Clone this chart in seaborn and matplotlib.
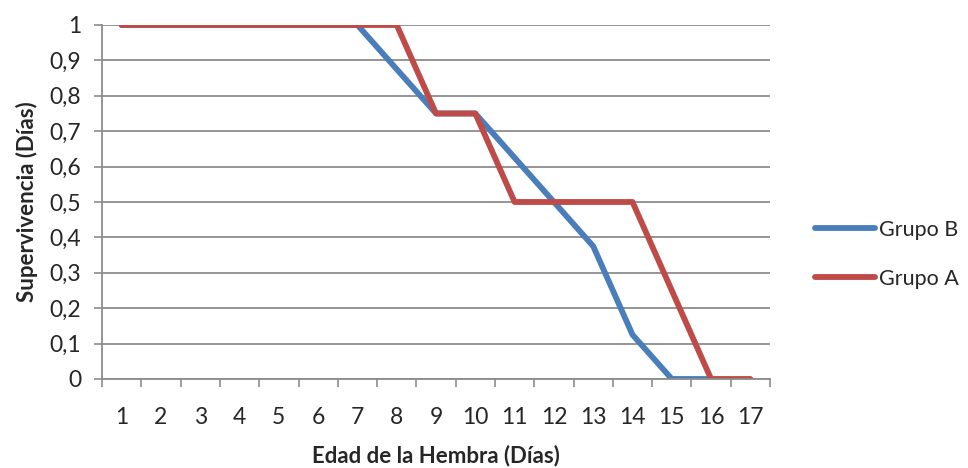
import pandas as pd
import numpy as np
import seaborn as sns
import matplotlib.pyplot as plt
from matplotlib.ticker import FixedLocator, FuncFormatter

dias = list(range(1, 18))
grupo_b = [1, 1, 1, 1, 1, 1, 1, 0.875, 0.75, 0.75, 0.625, 0.5, 0.375, 0.125, 0, 0, None]
grupo_a = [1, 1, 1, 1, 1, 1, 1, 1, 0.75, 0.75, 0.5, 0.5, 0.5, 0.5, 0.25, 0, 0]

df = pd.DataFrame({
    "dia": dias * 2,
    "valor": grupo_b + grupo_a,
    "grupo": ["Grupo B"] * 17 + ["Grupo A"] * 17,
}).dropna()

sns.set_style("white")
plt.rcParams['font.family'] = ['Lato', 'DejaVu Sans']

fig = plt.figure(figsize=(9.68, 4.68), dpi=100)
ax = fig.add_axes([0.1054, 0.1902, 0.6901, 0.7564])

sns.lineplot(data=df, x="dia", y="valor", hue="grupo", hue_order=["Grupo B", "Grupo A"],
             palette={"Grupo B": "#4A7EBB", "Grupo A": "#BE4B48"},
             linewidth=4.2, ax=ax, legend=False, solid_capstyle="round")

ax.set_xlim(0.5, 17.5)
ax.set_ylim(0, 1)
ax.yaxis.set_major_locator(FixedLocator(np.round(np.arange(0, 1.01, 0.1), 1)))
ax.yaxis.set_major_formatter(FuncFormatter(lambda v, p: ("%g" % round(v, 1)).replace(".", ",")))
ax.grid(axis="y", color="#8C8C8C", linewidth=1.3)
ax.set_axisbelow(True)

# ticks at category boundaries, labels at centers
ax.xaxis.set_major_locator(FixedLocator(np.arange(0.5, 18, 1)))
ax.xaxis.set_minor_locator(FixedLocator(dias))
ax.xaxis.set_major_formatter(FuncFormatter(lambda v, p: ""))
ax.xaxis.set_minor_formatter(FuncFormatter(lambda v, p: "%d" % v))
ax.tick_params(axis="x", which="major", length=6, width=1.2, color="#8C8C8C", direction="out", bottom=True)
ax.tick_params(axis="x", which="minor", length=0, pad=20, labelsize=16.5, bottom=True)
ax.tick_params(axis="y", length=6, width=1.2, color="#8C8C8C", direction="out", left=True, labelsize=16.5, pad=9)

for s in ["top", "right"]:
    ax.spines[s].set_visible(False)
for s in ["left", "bottom"]:
    ax.spines[s].set_color("#8C8C8C")
    ax.spines[s].set_linewidth(1.3)

ax.set_xlabel("Edad de la Hembra (Días)", fontsize=16, fontweight="bold", labelpad=12)
ax.set_ylabel("Supervivencia (Días)", fontsize=16, fontweight="bold", labelpad=8)

handles = [plt.Line2D([], [], color="#4A7EBB", linewidth=4.2, solid_capstyle="round"),
           plt.Line2D([], [], color="#BE4B48", linewidth=4.2, solid_capstyle="round")]
fig.legend(handles, ["Grupo B", "Grupo A"], loc="center left", bbox_to_anchor=(0.822, 0.457),
           frameon=False, fontsize=15.5, handlelength=2.8, handletextpad=0.15, labelspacing=1.35)

fig.savefig("out.png", dpi=100)
